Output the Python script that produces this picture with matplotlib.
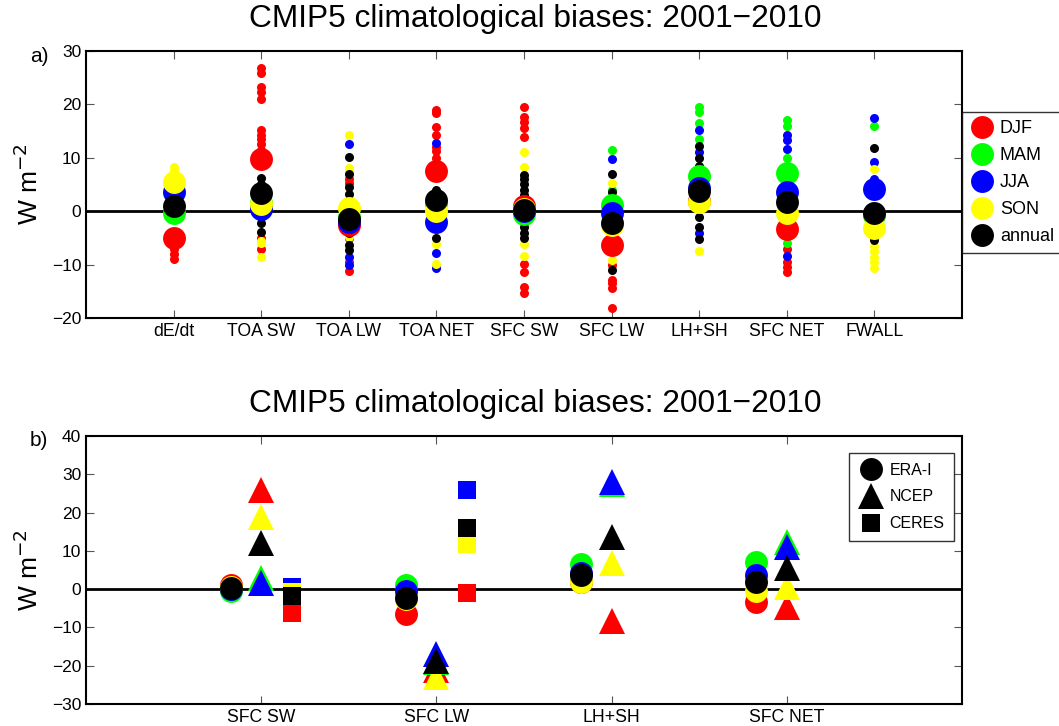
import matplotlib
matplotlib.use("Agg")
import matplotlib.pyplot as plt
from matplotlib.lines import Line2D

plt.rcParams['font.family'] = ['Liberation Sans', 'DejaVu Sans']

# ---- data ------------------------------------------------------------------
categories_a = ['dE/dt', 'TOA SW', 'TOA LW', 'TOA NET', 'SFC SW',
                'SFC LW', 'LH+SH', 'SFC NET', 'FWALL']
categories_b = ['SFC SW', 'SFC LW', 'LH+SH', 'SFC NET']
seasons = ['DJF', 'MAM', 'JJA', 'SON', 'annual']
season_colors = ['#ff0000', '#00ff00', '#0000ff', '#ffff00', '#000000']

# multi-model mean biases (big circles), one value per category
djf_mean = [-5.0, 9.7, -2.5, 7.5, 1.0, -6.4, 1.9, -3.4, -0.5]
mam_mean = [-0.4, 1.5, -1.0, 1.5, -0.5, 1.1, 6.6, 7.2, -0.8]
jja_mean = [3.5, 0.5, -2.0, -2.0, 0.0, -0.4, 4.3, 3.6, 4.1]
son_mean = [5.5, 1.3, 0.6, 0.0, 0.5, -2.6, 1.8, -0.4, -3.2]
ann_mean = [1.0, 3.4, -1.5, 2.1, 0.3, -2.2, 3.8, 1.8, -0.3]

# individual model biases (small dots), one list per category
djf_models = [[-9, -8, -7],
              [26.8, 25.9, 23.3, 22.3, 21, 15.2, 14.3, 13.5, 12.5, 11.5, -5, -7.1],
              [6, 5.2, 2, -3, -9.5, -11.2],
              [18.9, 18.3, 15.8, 14.3, 12, 11.3, 10, 9],
              [19.5, 17.7, 16.7, 15.5, 13.9, -9.8, -11.4, -14.2, -15.3],
              [-10, -12.8, -13.5, -14.4, -18.2],
              [],
              [-7, -9.5, -10.5, -11.4],
              []]
mam_models = [[], [], [], [3], [], [11.5, 4], [19.5, 18.6, 16.6, 13.5],
              [17, 16, 10, -5.9], [15.9]]
jja_models = [[], [-1], [12.5, -5, -8.5, -10.1], [12.7, -7.8, -10.7], [],
              [9.7], [15.2, 11, -4.1], [14.2, 13.3, 11.7, -8.4], [17.5, 9.2, 6]]
son_models = [[8.3, 7.5, 7],
              [4.5, -5.5, -6, -8.6],
              [14.2, 8, 7.5, -4.8],
              [-6.2, -9.8],
              [11.1, 8.3, -6.2, -8.3],
              [5.2, -7, -9.2],
              [-7.5],
              [],
              [7.9, -6.5, -7.5, -8.5, -9.5, -10.7]]
ann_models = [[],
              [6.2, 5, -1, -2.3, -3.9],
              [10.2, 6.9, 4.6, 3.2, -4, -6.4, -7.3],
              [4, -3, -5],
              [6.7, 6, 5, 4, 3, -2, -3, -4, -5],
              [6.9, 3.5, -11],
              [12.2, 9.9, 8.5, -1, -2.9, -5.2],
              [],
              [11.9, -5.4]]

# panel b: reanalysis / CERES based biases (ERA-I = same as model mean circles)
era_idx = [4, 5, 6, 7]
djf_ncep = [26.0, -21.0, -8.4, -4.7]
mam_ncep = [3.0, -19.0, 27.5, 12.4]
jja_ncep = [1.5, -17.0, 28.0, 11.0]
son_ncep = [18.8, -23.0, 6.8, 0.5]
ann_ncep = [12.0, -18.7, 13.6, 5.5]
djf_ceres = [-6.3, -1.0]
mam_ceres = [-1.5, 15.0]
jja_ceres = [0.5, 26.0]
son_ceres = [-0.8, 11.7]
ann_ceres = [-1.8, 16.0]

means = [djf_mean, mam_mean, jja_mean, son_mean, ann_mean]
models = [djf_models, mam_models, jja_models, son_models, ann_models]
ncep = [djf_ncep, mam_ncep, jja_ncep, son_ncep, ann_ncep]
ceres = [djf_ceres, mam_ceres, jja_ceres, son_ceres, ann_ceres]

# ---- figure ----------------------------------------------------------------
fig = plt.figure(figsize=(10.59, 7.26), dpi=100)
ax_a = fig.add_axes([0.0812, 0.562, 0.8272, 0.3678])
ax_b = fig.add_axes([0.0812, 0.0303, 0.8272, 0.3691])

xa = list(range(1, len(categories_a) + 1))

# small dots first, then the big mean circles on top
for col, mod in zip(season_colors, models):
    for x, vals in zip(xa, mod):
        ax_a.plot([x] * len(vals), vals, 'o', color=col, markersize=6.5,
                  markeredgewidth=0, zorder=3)
for name, col, m in zip(seasons, season_colors, means):
    ax_a.plot(xa, m, 'o', color=col, markersize=16.5, markeredgewidth=0,
              zorder=4, label=name)

xb = [2, 4, 6, 8]
for col, m, nc, ce in zip(season_colors, means, ncep, ceres):
    ax_b.plot([x - 0.35 for x in xb], [m[i] for i in era_idx], 'o', color=col,
              markersize=16.5, markeredgewidth=0, zorder=4)
    ax_b.plot(xb, nc, '^', color=col, markersize=19, markeredgewidth=0, zorder=4)
    ax_b.plot([x + 0.35 for x in xb[:2]], ce, 's', color=col, markersize=13,
              markeredgewidth=0, zorder=4)

for ax, lim, ticks in [(ax_a, (-20, 30), range(-20, 31, 10)),
                       (ax_b, (-30, 40), range(-30, 41, 10))]:
    ax.axhline(0, color='black', linewidth=2, zorder=2)
    ax.set_xlim(0, 10)
    ax.set_ylim(*lim)
    ax.set_yticks(list(ticks))
    ax.set_yticklabels([str(t).replace('-', '\u2212') for t in ticks])
    ax.tick_params(direction='in', top=True, right=True, length=6,
                   width=0.8, labelsize=12.5, color='#555555')
    for s in ax.spines.values():
        s.set_linewidth(1.5)
    ax.set_ylabel('W m$^{-2}$', fontsize=19, labelpad=6)
    ax.set_title('CMIP5 climatological biases: 2001\u22122010', fontsize=22.8,
                 pad=17, x=0.5125)

ax_a.set_xticks(xa)
ax_a.set_xticklabels(categories_a, fontsize=12.7)
ax_b.set_xticks(xb)
ax_b.set_xticklabels(categories_b, fontsize=12.7)

fig.text(0.028, 0.9215, 'a)', fontsize=15, va='center')
fig.text(0.028, 0.3926, 'b)', fontsize=15, va='center')

leg_a = ax_a.legend(loc='upper left', bbox_to_anchor=(1.0, 0.7715), fontsize=13,
                    frameon=True, fancybox=False, edgecolor='black',
                    handletextpad=0.35, labelspacing=0.55, borderpad=0.45,
                    borderaxespad=0, handlelength=1.3, markerscale=1.0)
leg_a.get_frame().set_linewidth(1.0)

handles_b = [Line2D([], [], marker=mk, color='black', linestyle='none',
                    markersize=ms, markeredgewidth=0)
             for mk, ms in [('o', 16.5), ('^', 19), ('s', 13)]]
leg_b = ax_b.legend(handles_b, ['ERA-I', 'NCEP', 'CERES'], loc='upper right',
                    bbox_to_anchor=(0.991, 0.937), fontsize=11.5, frameon=True,
                    fancybox=False, edgecolor='black', handletextpad=0.35,
                    labelspacing=0.75, borderpad=0.6, borderaxespad=0,
                    handlelength=1.6)
leg_b.get_frame().set_linewidth(1.0)

fig.savefig('out.png', dpi=100)
